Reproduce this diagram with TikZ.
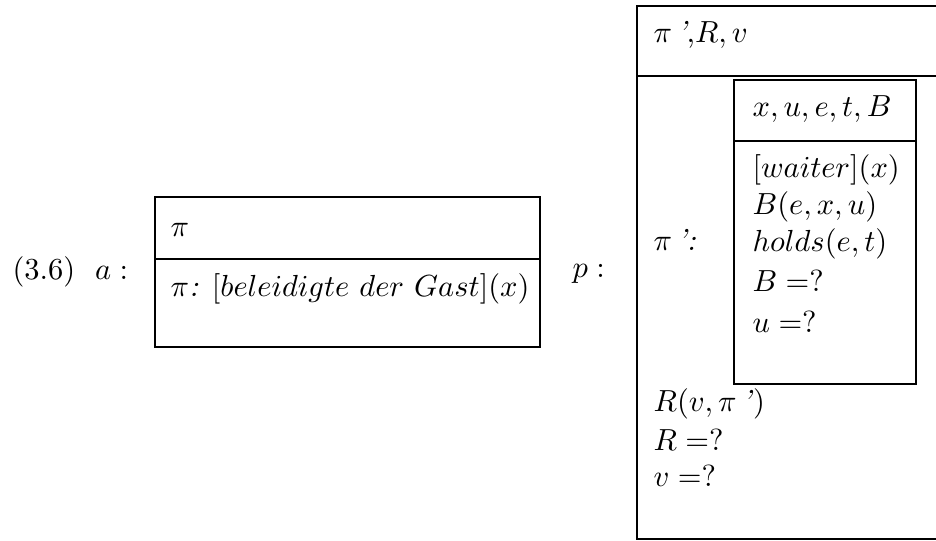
\documentclass[tikz,border=0pt]{standalone}
\begin{document}
\begin{tikzpicture}[x=0.32787pt,y=-0.32787pt,
  boxline/.style={draw=black,line width=0.9pt},
  txt/.style={anchor=base west,inner sep=0pt}]
\useasboundingbox (0,0) rectangle (936,541);
\clip (0,0) rectangle (936,541);
% label (3.6) a :
\node[txt] (lab) at (12,280) {$(3.6)$\hspace{6.5pt}$a:$};
% box a
\draw[boxline] (155,197) rectangle (540,347);
\draw[boxline] (155,259) -- (540,259);
\node[txt] (aU) at (170,237) {$\pi$};
\node[txt] (aC) at (170,297) {$\pi$\textit{:} $[beleidigte\ der\ Gast](x)$};
% label p :
\node[txt] (plab) at (572,278) {$p:$};
% outer box p
\draw[boxline] (637,6) rectangle (960,539);
\draw[boxline] (637,76) -- (960,76);
\node[txt] (pU) at (653,43) {$\pi$\,\textit{'},$R,v$};
\node[txt] (pi1) at (653,251) {$\pi$\,\textit{':}};
% inner box
\draw[boxline] (734,80) rectangle (916,384);
\draw[boxline] (734,141) -- (916,141);
\node[txt] (iU) at (752,117) {$x,u,e,t,B$};
\node[txt] (c1) at (752,178) {$[waiter](x)$};
\node[txt] (c2) at (752,215) {$B(e,x,u)$};
\node[txt] (c3) at (752,252) {$holds(e,t)$};
\node[txt] (c4) at (752,292) {$B=?$};
\node[txt] (c5) at (752,333) {$u=?$};
% outer conditions
\node[txt] (o1) at (653,412) {$R(v,\pi$\,\textit{'}$)$};
\node[txt] (o2) at (653,451) {$R=?$};
\node[txt] (o3) at (653,487) {$v=?$};
\end{tikzpicture}
\end{document}
